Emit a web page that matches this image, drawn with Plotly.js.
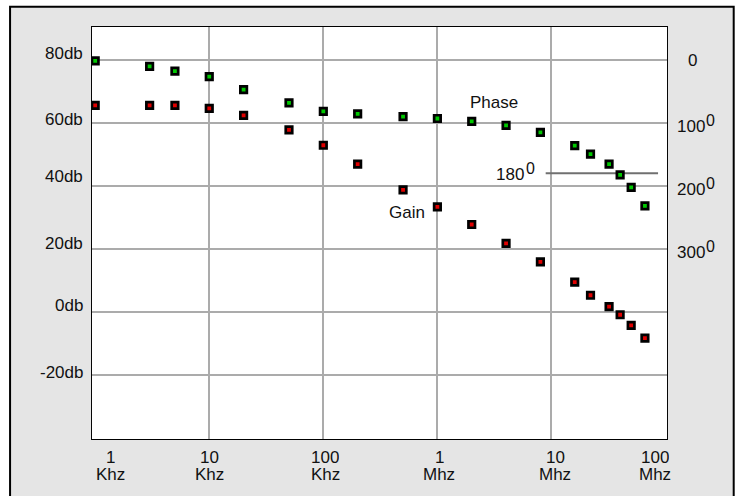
<!DOCTYPE html>
<html><head><meta charset="utf-8">
<script src="https://cdn.plot.ly/plotly-3.0.1.min.js"></script>
<style>
html,body{margin:0;padding:0;background:#fff;overflow:hidden;}
#chart{width:735px;height:496px;}
</style>
</head><body><div id="chart"></div>
<script>
// ---- data ----
const freqKHz = [1,3,5,10,20,50,100,200,500,1000,2000,4000,8000,16000,22000,32000,40000,50000,66000];
const gainDb = [65.6,65.6,65.6,64.6,62.4,57.8,52.9,46.9,38.7,33.3,27.7,21.7,15.8,9.4,5.2,1.6,-1.0,-4.4,-8.4];
const phaseDeg = [1.5,10,17.5,26.5,47,68,81.5,85.5,90,93,97.5,104,115,136,149.5,165.5,182.5,202.5,232];
const xTickVals = [1,10,100,1000,10000,100000];
const xTickNums = ['1','10','100','1','10','100'];
const xTickUnits = ['Khz','Khz','Khz','Mhz','Mhz','Mhz'];
const gainTickVals = [80,60,40,20,0,-20];
const gainTickText = ['80db','60db','40db','20db','0db','-20db'];
const phaseTickVals = [0,100,200,300];
const phaseTickNums = ['0','100','200','300'];
const phaseTickSup = ['','0','0','0'];
const refPhase = 180;
const refLineKHz = [8900, 86000];
const refLabelNum = '180';
const refLabelSup = '0';

// ---- styles ----
const FONT = {family: 'Liberation Sans, Arial, sans-serif', size: 17, color: '#111'};
const SUPFONT = {family: 'Liberation Sans, Arial, sans-serif', size: 16, color: '#111'};
const xLabelShift = [15,0,2,2,4,-11];
const yLabelLift = [7,3,9,5,6.5,2];
const grid = '#ababab';
const FRAME = '#e5e5e5';
// frame bounds in paper units (plot area is 0..1)
const fx0 = -0.1425, fx1 = 1.116, fy0 = -0.2, fy1 = 1.049;
const ex = 0.0017, ey = 0.0024; // keep the plot border visible

const annotations = [];
xTickVals.forEach((v,i) => {
  annotations.push({xref:'x', yref:'paper', x:Math.log10(v), y:-0.0454, xshift:xLabelShift[i], height:15, text:xTickNums[i], showarrow:false, xanchor:'center', yanchor:'middle', font:FONT});
  annotations.push({xref:'x', yref:'paper', x:Math.log10(v), y:-0.086, xshift:xLabelShift[i], height:15, text:xTickUnits[i], showarrow:false, xanchor:'center', yanchor:'middle', font:FONT});
});
gainTickVals.forEach((v,i) => {
  annotations.push({xref:'paper', yref:'y', x:0, y:v, xshift:-7, yshift:yLabelLift[i], text:gainTickText[i], showarrow:false, xanchor:'right', yanchor:'middle', font:FONT});
});
phaseTickVals.forEach((v,i) => {
  if (!phaseTickSup[i]) {
    annotations.push({xref:'paper', yref:'y2', x:1, y:v, xshift:25, text:phaseTickNums[i], showarrow:false, xanchor:'center', yanchor:'middle', font:FONT});
  } else {
    annotations.push({xref:'paper', yref:'y2', x:1, y:v, xshift:39, yshift:-4, text:phaseTickNums[i], showarrow:false, xanchor:'right', yanchor:'middle', font:FONT, borderpad:0});
    annotations.push({xref:'paper', yref:'y2', x:1, y:v, xshift:38, yshift:2, text:phaseTickSup[i], showarrow:false, xanchor:'left', yanchor:'middle', font:SUPFONT, borderpad:0});
  }
});
annotations.push({xref:'x', yref:'y', x:3.494, y:66.5, text:'Phase', showarrow:false, xanchor:'center', yanchor:'middle', font:FONT});
annotations.push({xref:'x', yref:'y', x:2.732, y:31.5, text:'Gain', showarrow:false, xanchor:'center', yanchor:'middle', font:FONT});
annotations.push({xref:'x', yref:'y2', x:3.757, y:refPhase, xshift:1, yshift:-1, text:refLabelNum, showarrow:false, xanchor:'right', yanchor:'middle', font:FONT, borderpad:0});
annotations.push({xref:'x', yref:'y2', x:3.757, y:refPhase, xshift:1, yshift:5, text:refLabelSup, showarrow:false, xanchor:'left', yanchor:'middle', font:SUPFONT, borderpad:0});

const band = (x0,x1,y0,y1) => ({type:'rect', xref:'paper', yref:'paper', x0, x1, y0, y1, layer:'above', fillcolor:FRAME, opacity:1, line:{width:0}});
const shapes = [
  band(fx0, fx1, 1+ey, fy1),      // top
  band(fx0, fx1, fy0, -ey),       // bottom
  band(fx0, -ex, -ey, 1+ey),      // left
  band(1+ex, fx1, -ey, 1+ey),     // right
  {type:'rect', xref:'paper', yref:'paper', x0:fx0, x1:fx1, y0:fy0, y1:fy1, layer:'above', fillcolor:'rgba(0,0,0,0)', line:{color:'#000', width:2}}
];

const traces = [
  {x: refLineKHz, y:[refPhase, refPhase], yaxis:'y2', mode:'lines', line:{color:'#707070', width:2}, hoverinfo:'skip', showlegend:false},
  {x: freqKHz, y: gainDb, mode:'markers', name:'Gain', cliponaxis:false,
   marker:{symbol:'square', size:6.5, color:'#e00000', line:{color:'#000', width:2.7}}},
  {x: freqKHz, y: phaseDeg, yaxis:'y2', mode:'markers', name:'Phase', cliponaxis:false,
   marker:{symbol:'square', size:6.5, color:'#00c800', line:{color:'#000', width:2.7}}}
];

const layout = {
  width:735, height:496,
  margin:{l:92, r:68, t:27, b:57},
  paper_bgcolor:'#fff', plot_bgcolor:'#fff',
  showlegend:false,
  font: FONT,
  xaxis:{type:'log', range:[-0.028, 5.013], tickvals:[10,100,1000,10000], showticklabels:false, ticks:'',
         showgrid:true, gridcolor:grid, gridwidth:2, zeroline:false,
         showline:true, linecolor:'#000', linewidth:2, mirror:true},
  yaxis:{range:[-40.5, 90.5], tickvals:gainTickVals, showticklabels:false, ticks:'',
         showgrid:true, gridcolor:grid, gridwidth:2, zeroline:false,
         showline:true, linecolor:'#000', linewidth:2, mirror:true},
  yaxis2:{overlaying:'y', side:'right', range:[602.5, -52.5], showgrid:false, zeroline:false,
          showticklabels:false, ticks:'', showline:false},
  shapes: shapes,
  annotations: annotations
};

Plotly.newPlot('chart', traces, layout, {staticPlot:true, displayModeBar:false});
</script>
</body></html>
